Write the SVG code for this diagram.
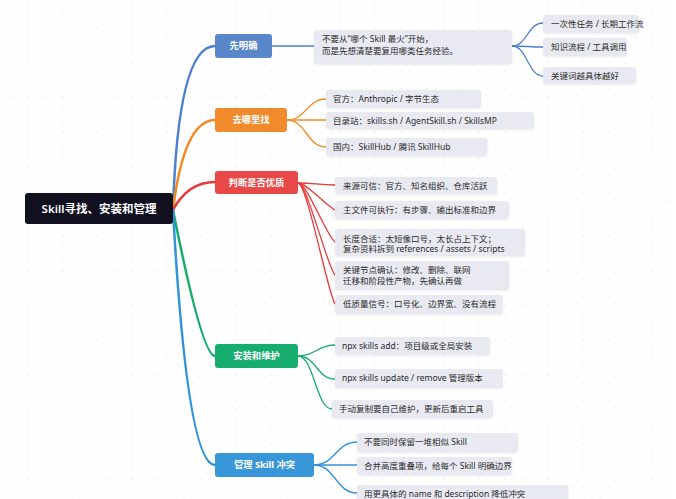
<svg xmlns="http://www.w3.org/2000/svg" width="676" height="499" viewBox="0 0 676 499">
<defs>
<pattern id="dots" width="8.67" height="8.67" patternUnits="userSpaceOnUse"><circle cx="2" cy="2" r="0.7" fill="#e4e4e8"/></pattern>
<filter id="sh" x="-10%" y="-30%" width="120%" height="170%"><feDropShadow dx="0" dy="1" stdDeviation="1" flood-color="#000" flood-opacity="0.08"/></filter>
</defs>
<style>
text{font-family:"Noto Sans","Noto Sans CJK SC",sans-serif}
.leaf rect{fill:#e8e9f1;filter:url(#sh)}
.leaf text{font-size:8.5px;fill:#2b2b2b}
.br text{font-size:9.3px;font-weight:700;fill:#fff;text-anchor:middle}
.c path{fill:none;stroke-linecap:round}
.m{stroke-width:2.5}
.s{stroke-width:1.3}
.b1{stroke:#4d7fcf}.b2{stroke:#f28a24}.b3{stroke:#e83a3a}.b4{stroke:#14ad6b}.b5{stroke:#2f93db}
</style>
<rect width="676" height="499" fill="#fff"/>
<rect width="676" height="499" fill="url(#dots)"/>

<g id="connectors" class="c">
<path class="m b1" d="M173,210 Q178,46 215,46"/>
<path class="m b2" d="M173,210 Q184,120 215,120"/>
<path class="m b3" d="M173,210 Q188,182 215,182"/>
<path class="m b4" d="M173,210 Q202,356 215,356"/>
<path class="m b5" d="M173,210 Q187,465 215,465"/>
<path class="s b1" d="M272,46 L314,46"/>
<path class="s b1" d="M512,46 C527,46 528,23 543,23"/>
<path class="s b1" d="M512,46 C527,46 528,47 543,47"/>
<path class="s b1" d="M512,46 C527,46 528,76 543,76"/>
<path class="s b2" d="M287,120 C306,120 307,99 326,99"/>
<path class="s b2" d="M287,120 L326,120"/>
<path class="s b2" d="M287,120 C306,120 307,147 326,147"/>
<path class="s b3" d="M298,183 C314,183 318,185 335,185"/>
<path class="s b3" d="M298,183 C307,183 325,205 335,210"/>
<path class="s b3" d="M298,183 C307,183 326,235 335,242"/>
<path class="s b3" d="M298,183 C307,183 327,266 335,275"/>
<path class="s b3" d="M298,183 C307,183 328,294 335,304"/>
<path class="s b4" d="M298,356 C316,356 317,345 335,345"/>
<path class="s b4" d="M298,356 C316,356 317,379 335,379"/>
<path class="s b4" d="M298,356 C314,356 316,409 332,409"/>
<path class="s b5" d="M314,465 C335,465 336,442 357,442"/>
<path class="s b5" d="M314,465 L357,465"/>
<path class="s b5" d="M314,465 C335,465 336,493 357,493"/>
</g>

<g id="root">
<rect x="25" y="193" width="148" height="31" rx="3" fill="#10101f"/>
<text x="99" y="212.5" text-anchor="middle" font-size="11.5" font-weight="600" fill="#fff">Skill寻找、安装和管理</text>
</g>

<g id="branch-1" class="br"><rect x="215" y="34" width="57" height="24" rx="3" fill="#5a87c9"/><text x="243.5" y="49.3">先明确</text></g>
<g id="branch-2" class="br"><rect x="215" y="108" width="72" height="24" rx="3" fill="#f08a2a"/><text x="251" y="123.3">去哪里找</text></g>
<g id="branch-3" class="br"><rect x="215" y="171" width="83" height="23" rx="3" fill="#e94848"/><text x="256.5" y="185.8">判断是否优质</text></g>
<g id="branch-4" class="br"><rect x="215" y="344" width="83" height="24" rx="3" fill="#17ad6f"/><text x="256.5" y="359.3">安装和维护</text></g>
<g id="branch-5" class="br"><rect x="215" y="453" width="99" height="24" rx="3" fill="#3797d8"/><text x="264.5" y="468.3">管理 Skill 冲突</text></g>

<g id="leaf-1" class="leaf"><rect x="314" y="30" width="198" height="34" rx="3"/><text x="322" y="42">不要从“哪个 Skill 最火”开始，</text><text x="322" y="54">而是先想清楚要复用哪类任务经验。</text></g>
<g id="leaf-1-1" class="leaf"><rect x="543" y="15" width="96" height="18" rx="3"/><text x="551" y="27">一次性任务 / 长期工作流</text></g>
<g id="leaf-1-2" class="leaf"><rect x="543" y="38" width="84" height="18" rx="3"/><text x="551" y="50">知识流程 / 工具调用</text></g>
<g id="leaf-1-3" class="leaf"><rect x="543" y="67" width="93" height="17" rx="3"/><text x="551" y="78.5">关键词越具体越好</text></g>

<g id="leaf-2-1" class="leaf"><rect x="326" y="90" width="155" height="18" rx="3"/><text x="333" y="102">官方：Anthropic / 字节生态</text></g>
<g id="leaf-2-2" class="leaf"><rect x="326" y="112" width="208" height="17" rx="3"/><text x="333" y="123.5">目录站：skills.sh / AgentSkill.sh / SkillsMP</text></g>
<g id="leaf-2-3" class="leaf"><rect x="326" y="138" width="161" height="18" rx="3"/><text x="333" y="150">国内：SkillHub / 腾讯 SkillHub</text></g>

<g id="leaf-3-1" class="leaf"><rect x="335" y="177" width="162" height="17" rx="3"/><text x="343" y="188.5">来源可信：官方、知名组织、仓库活跃</text></g>
<g id="leaf-3-2" class="leaf"><rect x="335" y="201" width="174" height="18" rx="3"/><text x="343" y="213">主文件可执行：有步骤、输出标准和边界</text></g>
<g id="leaf-3-3" class="leaf"><rect x="335" y="229" width="190" height="27" rx="3"/><text x="343" y="241.5">长度合适：太短像口号，太长占上下文；</text><text x="343" y="251.5">复杂资料拆到 references / assets / scripts</text></g>
<g id="leaf-3-4" class="leaf"><rect x="335" y="261" width="174" height="29" rx="3"/><text x="343" y="273">关键节点确认：修改、删除、联网</text><text x="343" y="284">迁移和阶段性产物，先确认再做</text></g>
<g id="leaf-3-5" class="leaf"><rect x="335" y="295" width="168" height="19" rx="3"/><text x="343" y="307">低质量信号：口号化、边界宽、没有流程</text></g>

<g id="leaf-4-1" class="leaf"><rect x="335" y="337" width="155" height="18" rx="3"/><text x="342" y="349">npx skills add：项目级或全局安装</text></g>
<g id="leaf-4-2" class="leaf"><rect x="335" y="369" width="168" height="19" rx="3"/><text x="342" y="381">npx skills update / remove 管理版本</text></g>
<g id="leaf-4-3" class="leaf"><rect x="332" y="400" width="161" height="18" rx="3"/><text x="339" y="412">手动复制要自己维护，更新后重启工具</text></g>

<g id="leaf-5-1" class="leaf"><rect x="357" y="433" width="161" height="19" rx="3"/><text x="364" y="445">不要同时保留一堆相似 Skill</text></g>
<g id="leaf-5-2" class="leaf"><rect x="357" y="457" width="155" height="18" rx="3"/><text x="364" y="468.5">合并高度重叠项，给每个 Skill 明确边界</text></g>
<g id="leaf-5-3" class="leaf"><rect x="357" y="485" width="211" height="20" rx="3"/><text x="364" y="496.5">用更具体的 name 和 description 降低冲突</text></g>
</svg>
